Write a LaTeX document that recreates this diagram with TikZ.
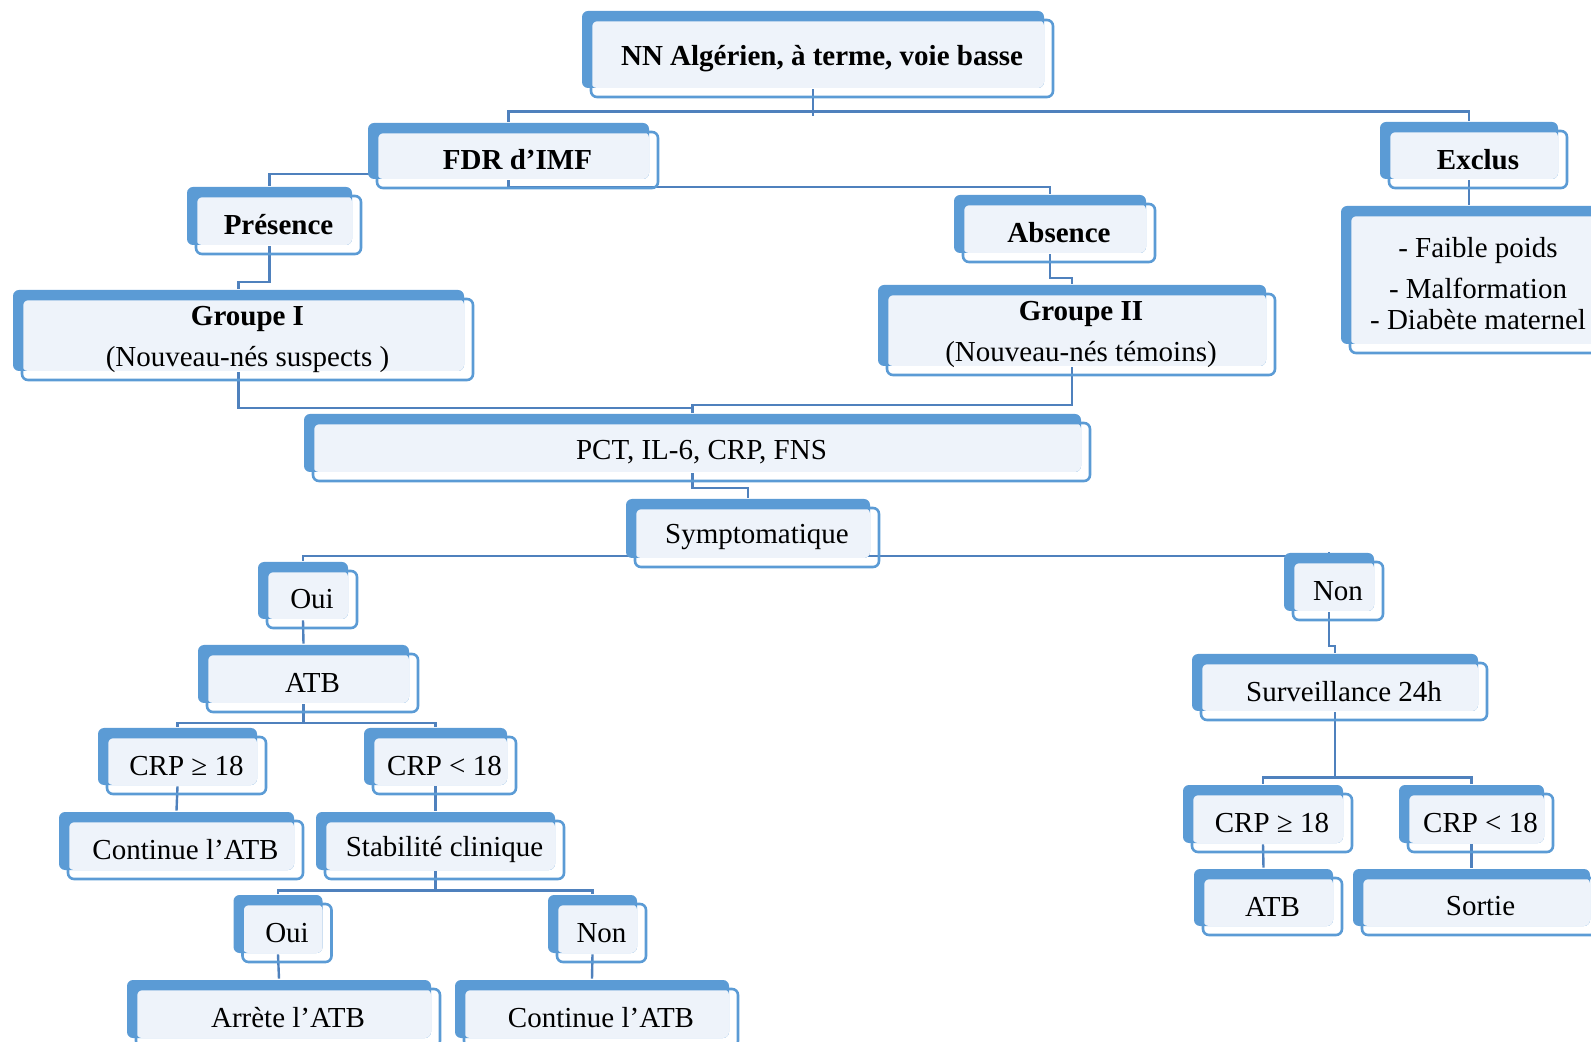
\documentclass[tikz,border=0pt]{standalone}
\usepackage{fontspec}
\setmainfont{Liberation Serif}
\usetikzlibrary{shadows,backgrounds}

\definecolor{backblue}{HTML}{5B9BD5}
\definecolor{paleblue}{HTML}{EEF3FA}
\definecolor{edgeblue}{HTML}{5B9BD5}
\definecolor{linkblue}{HTML}{4F81BD}

\tikzset{
  box/.style={draw=edgeblue, line width=1.3pt, rounded corners=3pt, inner sep=0pt, align=center,
    general shadow={fill=backblue, shadow xshift=-4.5pt, shadow yshift=4.5pt},
    path picture={\fill[paleblue] (path picture bounding box.north west) rectangle ([xshift=-4.5pt,yshift=4.5pt]path picture bounding box.south east);}},
  sz/.style 2 args={minimum width=#1*0.5pt, minimum height=#2*0.5pt},
  bk/.style={xshift=-4.5pt, yshift=4.5pt},
  link/.style={draw=linkblue, line width=1.2pt},
  head/.style={font=\fontsize{14.5}{20.5}\selectfont\bfseries}
}

\begin{document}
\begin{tikzpicture}[x=0.5pt, y=-0.5pt, font=\fontsize{14.5}{20.5}\selectfont]
      \useasboundingbox (0,0) rectangle (1591,1042);

      \node[box, sz={462}{77}, head] (top) at (822,58.5) {NN Algérien, à terme, voie basse};
      \node[box, sz={281}{56}, head] (fdr) at (517.5,160) {FDR d’IMF};
      \node[box, sz={178}{57}, head] (exclus) at (1478,159.5) {Exclus};
      \node[box, sz={165}{58}, head] (pres) at (278.5,225) {Présence};
      \node[box, sz={192}{58}, head] (abs) at (1059,233) {Absence};
      \node[box, sz={256}{138}, font=\fontsize{14.5}{15.5}\selectfont] (crit) at (1478,284) {- Faible poids\\[5pt]- Malformation\\- Diabète maternel};
      \node[box, sz={451}{81}] (g1) at (247.5,339.5) {\textbf{Groupe I}\\(Nouveau-nés suspects )};
      \node[box, sz={388}{81}] (g2) at (1081,334.5) {\textbf{Groupe II}\\(Nouveau-nés témoins)};
      \node[box, sz={777}{58}] (pct) at (701.5,452) {PCT, IL-6, CRP, FNS};
      \node[box, sz={244}{59}] (sympt) at (757,537.5) {Symptomatique};
      \node[box, sz={90}{57}] (oui1) at (312,599.5) {Oui};
      \node[box, sz={211}{58}] (atb1) at (312.5,683) {ATB};
      \node[box, sz={90}{58}] (non1) at (1338,591) {Non};
      \node[box, sz={286}{57}] (surv) at (1344,691.5) {Surveillance 24h};
      \node[box, sz={159}{57}] (crpA) at (186.5,765.5) {CRP ≥ 18};
      \node[box, sz={143}{57}] (crpB) at (444.5,765.5) {CRP < 18};
      \node[box, sz={235}{58}] (cont1) at (185.5,850) {Continue l’ATB};
      \node[box, sz={239}{58}] (stab) at (444.5,850) {Stabilité clinique};
      \node[box, sz={160}{58}] (crpC) at (1272,823) {CRP ≥ 18};
      \node[box, sz={145}{58}] (crpD) at (1480.5,823) {CRP < 18};
      \node[box, sz={139}{57}] (atb2) at (1272.5,906.5) {ATB};
      \node[box, sz={237}{57}] (sortie) at (1480.5,906.5) {Sortie};
      \node[box, sz={89}{58}] (oui2) at (287,933) {Oui};
      \node[box, sz={89}{58}] (non2) at (601.5,933) {Non};
      \node[box, sz={304}{58}] (arrete) at (288,1018) {Arrète l’ATB};
      \node[box, sz={274}{58}] (cont2) at (601,1018) {Continue l’ATB};

      \begin{scope}[on background layer]
      \draw[link] ([bk]top.south) -- ++(0,27);
      \draw[link] ([bk]fdr.north) -- ++(0,-10) -| ([bk]exclus.north);
      \draw[link] ([bk]fdr.south) ++(0,-6) -| ([bk]pres.north);
      \draw[link] ([bk]fdr.south) -- ++(0,7) -| ([bk]abs.north);
      \draw[link] ([bk]exclus.south) -- ([bk]crit.north);
      \draw[link] ([bk]pres.south) -- ++(0,36) -| ([bk]g1.north);
      \draw[link] ([bk]abs.south) -- ++(0,24) -| ([bk]g2.north);
      \draw[link] ([bk]g1.south) -- ++(0,36) -| ([bk]pct.north);
      \draw[link] ([bk]g2.south) -- ++(0,38) -| ([bk]pct.north);
      \draw[link] ([bk]pct.south) -- ++(0,15) -| ([bk]sympt.north);
      \draw[link] ([bk]sympt.south) ++(0,-3) -| ([bk]oui1.north);
      \draw[link] ([bk]sympt.south) ++(0,-3) -| ([bk]non1.north);
      \draw[link] ([bk]oui1.south) -- ([bk]atb1.north);
      \draw[link] ([bk]atb1.south) -- ++(0,19) -| ([bk]crpA.north);
      \draw[link] ([bk]atb1.south) -- ++(0,19) -| ([bk]crpB.north);
      \draw[link] ([bk]crpA.south) -- ([bk]cont1.north);
      \draw[link] ([bk]crpB.south) -- ([bk]stab.north);
      \draw[link] ([bk]stab.south) -- ++(0,19) -| ([bk]oui2.north);
      \draw[link] ([bk]stab.south) -- ++(0,19) -| ([bk]non2.north);
      \draw[link] ([bk]oui2.south) -- ([bk]arrete.north);
      \draw[link] ([bk]non2.south) -- ([bk]cont2.north);
      \draw[link] ([bk]non1.south) -- ++(0,34) -| ([bk]surv.north);
      \draw[link] ([bk]surv.south) -- ++(0,65) -| ([bk]crpC.north);
      \draw[link] ([bk]surv.south) -- ++(0,65) -| ([bk]crpD.north);
      \draw[link] ([bk]crpC.south) -- ([bk]atb2.north);
      \draw[link] ([bk]crpD.south) -- ([bk]sortie.north);
      \end{scope}
\end{tikzpicture}
\end{document}
